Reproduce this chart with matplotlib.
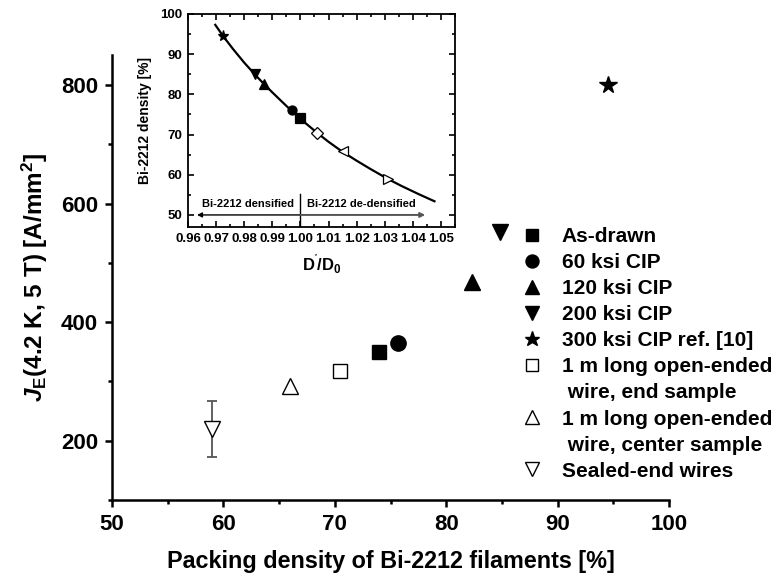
import matplotlib
matplotlib.use("Agg")
import matplotlib.pyplot as plt
from matplotlib.lines import Line2D
from matplotlib.ticker import MultipleLocator, FormatStrFormatter

plt.rcParams['font.family'] = ['Liberation Sans', 'DejaVu Sans']
plt.rcParams['font.weight'] = 'bold'
plt.rcParams['mathtext.fontset'] = 'custom'
plt.rcParams['mathtext.rm'] = 'Liberation Sans:bold'
plt.rcParams['mathtext.bf'] = 'Liberation Sans:bold'
plt.rcParams['mathtext.it'] = 'Liberation Sans:bold:italic'

# ---- main panel: engineering current density vs. filament packing density ----
labels = ["As-drawn", "60 ksi CIP", "120 ksi CIP", "200 ksi CIP",
          "300 ksi CIP ref. [10]", "1 m long open-ended\n wire, end sample",
          "1 m long open-ended\n wire, center sample", "Sealed-end wires"]
markers = ["s", "o", "^", "v", "*", "s", "^", "v"]
filled = [True, True, True, True, True, False, False, False]
marker_sizes = [9.5, 11, 12, 12, 13, 9.5, 12, 12]
packing = [74.0, 75.7, 82.3, 84.8, 94.5, 70.5, 66.0, 59.0]
je = [349, 365, 467, 552, 800, 317, 293, 220]
je_err = [0, 0, 0, 0, 0, 0, 0, 47]

# ---- inset: Bi-2212 density vs. D'/D0 ----
inset_ratio = [0.9725, 0.984, 0.987, 0.997, 1.000, 1.006, 1.015, 1.031]
inset_density = [94.5, 85.0, 82.5, 76.0, 74.0, 70.5, 66.0, 59.0]
inset_markers = ["*", "v", "^", "o", "s", "D", "<", ">"]
inset_filled = [True, True, True, True, True, False, False, False]
curve_ratio = [0.9697, 0.9725, 0.976, 0.980, 0.984, 0.987, 0.990, 0.994,
               0.997, 1.000, 1.006, 1.010, 1.015, 1.020, 1.025, 1.031,
               1.036, 1.042, 1.0477]
curve_density = [97.3, 94.5, 91.3, 87.9, 84.8, 82.6, 80.5, 77.8,
                 75.8, 73.9, 70.4, 68.2, 65.7, 63.5, 61.4, 59.0,
                 57.2, 55.2, 53.4]

W, H = 779, 583
fig = plt.figure(figsize=(W / 100, H / 100), dpi=100)

ax = fig.add_axes([112 / W, 1 - 500 / H, (669 - 112) / W, (500 - 55.4) / H])
ax.set_xlim(50, 100)
ax.set_ylim(100, 850)
for side in ("top", "right"):
    ax.spines[side].set_visible(False)
for side in ("left", "bottom"):
    ax.spines[side].set_linewidth(1.8)
ax.xaxis.set_major_locator(MultipleLocator(10))
ax.xaxis.set_minor_locator(MultipleLocator(5))
ax.yaxis.set_major_locator(MultipleLocator(200))
ax.yaxis.set_minor_locator(MultipleLocator(100))
ax.tick_params(which="both", direction="out", width=1.8, labelsize=16, pad=5)
ax.tick_params(which="major", length=5)
ax.tick_params(which="minor", length=3)
for t in ax.get_xticklabels() + ax.get_yticklabels():
    t.set_fontweight("bold")

ax.set_xlabel("Packing density of Bi-2212 filaments [%]", fontsize=16.8,
              fontweight="bold", labelpad=11)
ax.set_ylabel(r"$J_\mathrm{E}$(4.2 K, 5 T) [A/mm$^\mathrm{2}$]", fontsize=17.5,
              fontweight="bold", labelpad=8)

handles = []
for lab, m, f, ms, x, y, e in zip(labels, markers, filled, marker_sizes,
                                   packing, je, je_err):
    face = "black" if f else "white"
    if e:
        ax.errorbar([x], [y], yerr=[e], fmt="none", ecolor="#555555",
                    elinewidth=1.3, capsize=3.5, capthick=1.3, zorder=2)
    ax.plot([x], [y], linestyle="none", marker=m, ms=ms, mfc=face,
            mec="black", mew=1.0, zorder=3, clip_on=False)
    h = Line2D([], [], linestyle="none", marker=m, ms=ms * 0.85, mfc=face,
               mec="black", mew=1.0)
    first, *rest = lab.split("\n")
    handles.append((h, first))
    for extra in rest:
        handles.append((Line2D([], [], linestyle="none"), extra))

leg = fig.legend([h for h, _ in handles], [t for _, t in handles],
                 loc="upper left", bbox_to_anchor=(522 / W, 1 - 227 / H),
                 bbox_transform=fig.transFigure, frameon=False,
                 prop={"size": 15, "weight": "bold"}, handlelength=1.0,
                 handletextpad=0.9, labelspacing=0.34, borderpad=0,
                 borderaxespad=0)

# ---- inset axes ----
axi = fig.add_axes([188 / W, 1 - 227 / H, (455 - 188) / W, (227 - 14) / H])
axi.set_xlim(0.96, 1.055)
axi.set_ylim(47, 100)
for s in axi.spines.values():
    s.set_linewidth(1.3)
axi.xaxis.set_major_locator(MultipleLocator(0.01))
axi.xaxis.set_minor_locator(MultipleLocator(0.005))
axi.yaxis.set_major_locator(MultipleLocator(10))
axi.yaxis.set_minor_locator(MultipleLocator(5))
axi.tick_params(which="both", direction="in", top=True, right=True,
                width=1.2, labelsize=9.5, pad=4)
axi.tick_params(which="major", length=4)
axi.tick_params(which="minor", length=2.5)
axi.xaxis.set_major_formatter(FormatStrFormatter("%.2f"))
for t in axi.get_xticklabels() + axi.get_yticklabels():
    t.set_fontweight("bold")
axi.set_xlabel(r"D$^{\mathrm{'}}$/D$_\mathrm{0}$", fontsize=12,
               fontweight="bold", labelpad=6)
axi.set_ylabel("Bi-2212 density [%]", fontsize=10, fontweight="bold",
               labelpad=6)

axi.plot(curve_ratio, curve_density, color="black", lw=1.6, zorder=2)
for x, y, m, f in zip(inset_ratio, inset_density, inset_markers, inset_filled):
    axi.plot([x], [y], linestyle="none", marker=m, ms=6.5 if m != "*" else 8,
             mfc="black" if f else "white", mec="black", mew=0.9, zorder=3)

# densified / de-densified regions
axi.annotate("", xy=(0.9632, 50), xytext=(1.0, 50),
             arrowprops=dict(arrowstyle="-|>", color="black", lw=1.0,
                             mutation_scale=7, shrinkA=0, shrinkB=0))
axi.annotate("", xy=(1.0444, 50), xytext=(1.0, 50),
             arrowprops=dict(arrowstyle="-|>", color="#555555", lw=1.4,
                             mutation_scale=7, shrinkA=0, shrinkB=0))
axi.plot([1.0, 1.0], [47, 55.2], color="black", lw=1.0)
axi.text(0.9815, 52.6, "Bi-2212 densified", ha="center", va="center",
         fontsize=8, fontweight="bold")
axi.text(1.0022, 52.6, "Bi-2212 de-densified", ha="left", va="center",
         fontsize=8, fontweight="bold")

fig.savefig("out.png", dpi=100)
